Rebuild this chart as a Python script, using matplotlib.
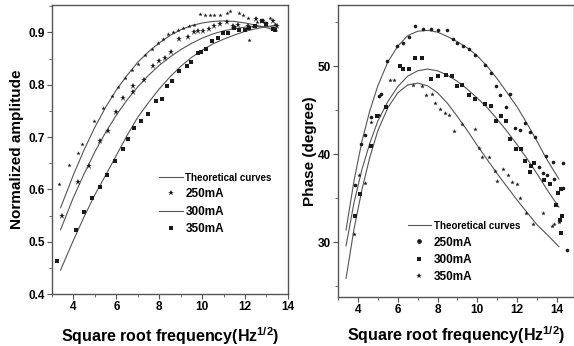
import matplotlib
matplotlib.use("Agg")
import matplotlib.pyplot as plt
from matplotlib.ticker import MultipleLocator

plt.rcParams["font.family"] = ["Liberation Sans", "DejaVu Sans"]
plt.rcParams["mathtext.fontset"] = "custom"
plt.rcParams["mathtext.bf"] = "Liberation Sans:bold"
plt.rcParams["mathtext.rm"] = "Liberation Sans:bold"

# ---- left panel: normalized amplitude ----
amp_250_x = [3.34, 3.81, 4.19, 4.42, 4.94, 5.36, 5.78, 6.07, 6.39, 6.72, 7.00, 7.33, 7.66, 7.94,
             8.18, 8.41, 8.65, 8.88, 9.12, 9.40, 9.63, 9.92, 10.15, 10.38, 10.57, 10.81, 11.14,
             11.32, 11.70, 11.89, 12.12, 12.17, 12.36, 12.55, 12.83, 13.16, 13.40]
amp_250_y = [0.610, 0.646, 0.669, 0.687, 0.731, 0.756, 0.779, 0.796, 0.812, 0.829, 0.840, 0.856,
             0.869, 0.879, 0.888, 0.896, 0.900, 0.904, 0.908, 0.912, 0.915, 0.935, 0.933, 0.933,
             0.933, 0.933, 0.937, 0.940, 0.937, 0.933, 0.927, 0.885, 0.912, 0.919, 0.923, 0.927, 0.917]

amp_300_x = [3.48, 4.19, 4.71, 5.22, 5.60, 5.97, 6.30, 6.77, 6.77, 7.29, 7.71, 7.99, 8.27, 8.56,
             8.93, 9.35, 9.60, 9.83, 10.06, 10.34, 10.57, 10.81, 11.14, 11.42, 11.65, 12.12,
             12.50, 12.78, 13.00, 13.30, 13.49]
amp_300_y = [0.550, 0.615, 0.644, 0.692, 0.711, 0.748, 0.775, 0.798, 0.787, 0.810, 0.835, 0.846,
             0.852, 0.862, 0.887, 0.892, 0.900, 0.902, 0.902, 0.906, 0.913, 0.917, 0.919, 0.913,
             0.915, 0.912, 0.925, 0.921, 0.917, 0.921, 0.912]

amp_350_x = [3.25, 4.10, 4.47, 4.85, 5.22, 5.55, 5.92, 6.30, 6.54, 6.82, 7.15, 7.47, 7.85, 8.13,
             8.37, 8.60, 8.93, 9.30, 9.50, 9.83, 9.97, 10.20, 10.48, 10.72, 10.95, 11.19, 11.47,
             11.70, 11.98, 12.20, 12.46, 12.80, 13.00, 13.30, 13.40]
amp_350_y = [0.463, 0.523, 0.556, 0.583, 0.605, 0.627, 0.655, 0.677, 0.696, 0.717, 0.731, 0.744,
             0.769, 0.773, 0.798, 0.808, 0.827, 0.835, 0.844, 0.860, 0.863, 0.869, 0.883, 0.890,
             0.898, 0.898, 0.908, 0.904, 0.904, 0.908, 0.912, 0.921, 0.917, 0.906, 0.904]

amp_fit_x = [3.4, 4.0, 4.5, 5.0, 5.5, 6.0, 6.5, 7.0, 7.5, 8.0, 8.5, 9.0, 9.5, 10.0, 10.5,
             11.0, 11.5, 12.0, 12.5, 13.0, 13.5]
amp_fit_250 = [0.565, 0.628, 0.676, 0.719, 0.757, 0.790, 0.818, 0.843, 0.863, 0.880, 0.894,
               0.905, 0.913, 0.918, 0.921, 0.922, 0.921, 0.918, 0.914, 0.909, 0.903]
amp_fit_300 = [0.523, 0.585, 0.630, 0.672, 0.709, 0.742, 0.771, 0.796, 0.818, 0.837, 0.853,
               0.867, 0.879, 0.889, 0.897, 0.903, 0.907, 0.910, 0.911, 0.911, 0.910]
amp_fit_350 = [0.446, 0.503, 0.548, 0.590, 0.627, 0.665, 0.703, 0.738, 0.766, 0.792, 0.815,
               0.835, 0.852, 0.866, 0.878, 0.887, 0.895, 0.902, 0.907, 0.911, 0.914]

# ---- right panel: phase ----
ph_250_x = [3.85, 4.15, 4.35, 4.66, 5.06, 5.16, 5.46, 5.97, 6.27, 6.58, 6.88, 7.28, 7.69, 8.04,
            8.49, 8.80, 9.00, 9.30, 9.56, 9.86, 10.41, 10.67, 10.92, 11.12, 11.42, 11.63, 11.88,
            12.13, 12.38, 12.64, 12.89, 13.10, 13.30, 13.45, 13.50, 13.80, 13.85, 14.30, 14.30, 14.50]
ph_250_y = [36.5, 41.2, 42.2, 44.2, 46.6, 46.9, 50.6, 52.3, 52.7, 53.4, 54.6, 54.3, 54.3, 54.1,
            54.1, 53.1, 52.7, 52.3, 52.0, 51.3, 50.2, 49.3, 47.8, 46.8, 45.4, 46.9, 43.0,
            42.8, 43.6, 42.6, 42.0, 38.6, 37.9, 39.8, 37.7, 39.1, 37.2, 39.0, 36.2, 29.1]

ph_300_x = [3.85, 4.10, 4.66, 4.96, 5.41, 6.12, 6.27, 6.58, 6.88, 7.23, 7.69, 8.04, 8.44, 8.75,
            9.00, 9.25, 9.56, 9.86, 10.41, 10.67, 10.92, 11.17, 11.42, 11.63, 11.93, 12.18,
            12.38, 12.64, 12.70, 12.84, 13.35, 13.65, 13.95, 14.05, 14.20, 14.25, 14.15, 14.20]
ph_300_y = [33.0, 35.5, 41.0, 44.4, 45.4, 50.0, 49.7, 49.7, 51.0, 50.9, 48.6, 48.9, 49.0, 48.9,
            47.8, 47.9, 46.7, 46.3, 45.7, 45.5, 43.8, 44.4, 43.8, 41.7, 40.6, 40.6,
            39.2, 38.0, 38.7, 39.0, 37.1, 36.6, 34.3, 35.6, 36.1, 33.0, 32.5, 31.1]

ph_350_x = [3.80, 4.05, 4.35, 4.66, 5.06, 5.62, 5.82, 6.78, 7.23, 7.43, 7.74, 7.89, 8.14, 8.39,
            8.60, 8.85, 9.25, 9.86, 10.06, 10.26, 10.60, 10.87, 10.97, 11.27, 11.52, 11.73,
            11.98, 12.13, 12.43, 12.79, 13.30, 13.75, 13.85, 14.10]
ph_350_y = [30.9, 37.7, 36.8, 43.7, 44.5, 48.5, 48.5, 47.9, 47.8, 46.8, 46.9, 45.8, 45.2, 44.7,
            44.5, 42.7, 43.5, 42.9, 40.7, 39.7, 39.7, 38.1, 37.0, 38.3, 37.7, 36.9,
            36.6, 35.0, 33.3, 32.1, 33.3, 31.9, 32.1, 32.3]

ph_fit_x = [3.4, 3.8, 4.2, 4.6, 5.0, 5.5, 6.0, 6.5, 7.0, 7.5, 8.0, 8.5, 9.0, 9.5, 10.0, 10.5,
            11.0, 11.5, 12.0, 12.5, 13.0, 13.5, 14.1]
ph_fit_250 = [31.4, 37.0, 41.5, 45.0, 47.8, 50.5, 52.3, 53.5, 54.0, 54.1, 53.9, 53.4, 52.8,
              52.1, 51.2, 50.0, 48.6, 47.0, 45.4, 43.5, 41.5, 39.4, 37.2]
ph_fit_300 = [29.6, 34.5, 38.3, 41.3, 43.8, 46.0, 47.7, 48.9, 49.5, 49.7, 49.5, 49.0, 48.3,
              47.4, 46.4, 45.3, 44.0, 42.6, 41.1, 39.5, 37.8, 36.0, 34.0]
ph_fit_350 = [25.9, 31.5, 36.0, 39.7, 42.7, 45.3, 47.0, 47.9, 48.1, 47.8, 47.0, 45.8, 44.3,
              42.7, 41.0, 39.4, 37.8, 36.3, 34.8, 33.4, 32.0, 30.9, 29.5]

legend_labels = ["Theoretical curves", "250mA", "300mA", "350mA"]

line_col = "#555555"
mark_col = "#1a1a1a"
spine_col = "#555555"

fig = plt.figure(figsize=(5.74, 3.46), dpi=100)
ax1 = fig.add_axes([0.0906, 0.150, 0.411, 0.835])
ax2 = fig.add_axes([0.589, 0.142, 0.411, 0.844])


def style_axes(ax):
    for s in ax.spines.values():
        s.set_color(spine_col)
        s.set_linewidth(1.0)
    ax.tick_params(which="major", direction="out", length=3.5, width=0.8, color=spine_col,
                   labelsize=8.5, pad=1.5)
    ax.tick_params(which="minor", direction="out", length=2, width=0.6, color=spine_col)
    for lab in ax.get_xticklabels() + ax.get_yticklabels():
        lab.set_fontweight("bold")


def add_legend(ax, handles, anchor):
    leg = ax.legend(handles, legend_labels, loc="upper left", bbox_to_anchor=anchor,
                    frameon=False, prop={"weight": "bold", "size": 8.5}, handlelength=2.0,
                    handletextpad=0.2, labelspacing=0.45, borderpad=0, markerscale=1.3)
    # the first entry is printed in a narrower face in the original
    leg.get_texts()[0].set_fontsize(7)
    return leg


xlabel = "Square root frequency(Hz$^{\\mathbf{1/2}}$)"
leg_line = plt.Line2D([], [], color=line_col, lw=0.8)

# left
ax1.plot(amp_fit_x, amp_fit_250, color=line_col, lw=0.8)
ax1.plot(amp_fit_x, amp_fit_300, color=line_col, lw=0.8)
ax1.plot(amp_fit_x, amp_fit_350, color=line_col, lw=0.8)
s250, = ax1.plot(amp_250_x, amp_250_y, ls="none", marker="*", ms=3.2, color=mark_col, mew=0)
s300, = ax1.plot(amp_300_x, amp_300_y, ls="none", marker="*", ms=4.5, color=mark_col, mew=0)
s350, = ax1.plot(amp_350_x, amp_350_y, ls="none", marker="s", ms=2.4, color=mark_col, mew=0)
ax1.set_xlim(3, 14)
ax1.set_ylim(0.4, 0.952)
ax1.xaxis.set_minor_locator(MultipleLocator(1))
ax1.yaxis.set_minor_locator(MultipleLocator(0.05))
ax1.set_xticks([4, 6, 8, 10, 12, 14])
ax1.set_yticks([0.4, 0.5, 0.6, 0.7, 0.8, 0.9])
ax1.set_yticklabels(["0.4", "0.5", "0.6", "0.7", "0.8", "0.9"])
style_axes(ax1)
ax1.set_ylabel("Normalized amplitude", fontsize=11, fontweight="bold", labelpad=3)
ax1.set_xlabel(xlabel, fontsize=11.5, fontweight="bold", labelpad=9)
add_legend(ax1, [leg_line, s250, leg_line, s350], (0.43, 0.44))

# right
ax2.plot(ph_fit_x, ph_fit_250, color=line_col, lw=0.8)
ax2.plot(ph_fit_x, ph_fit_300, color=line_col, lw=0.8)
ax2.plot(ph_fit_x, ph_fit_350, color=line_col, lw=0.8)
p250, = ax2.plot(ph_250_x, ph_250_y, ls="none", marker="o", ms=2.6, color=mark_col, mew=0)
p300, = ax2.plot(ph_300_x, ph_300_y, ls="none", marker="s", ms=2.4, color=mark_col, mew=0)
p350, = ax2.plot(ph_350_x, ph_350_y, ls="none", marker="*", ms=3.4, color=mark_col, mew=0)
ax2.set_xlim(3, 14.86)
ax2.set_ylim(23.8, 57)
ax2.xaxis.set_minor_locator(MultipleLocator(1))
ax2.yaxis.set_minor_locator(MultipleLocator(5))
ax2.set_xticks([4, 6, 8, 10, 12, 14])
ax2.set_yticks([30, 40, 50])
style_axes(ax2)
ax2.set_ylabel("Phase (degree)", fontsize=11, fontweight="bold", labelpad=0.5)
ax2.set_xlabel(xlabel, fontsize=11.5, fontweight="bold", labelpad=6)
add_legend(ax2, [leg_line, p250, p300, p350], (0.27, 0.28))

fig.savefig("out.png", dpi=100)
